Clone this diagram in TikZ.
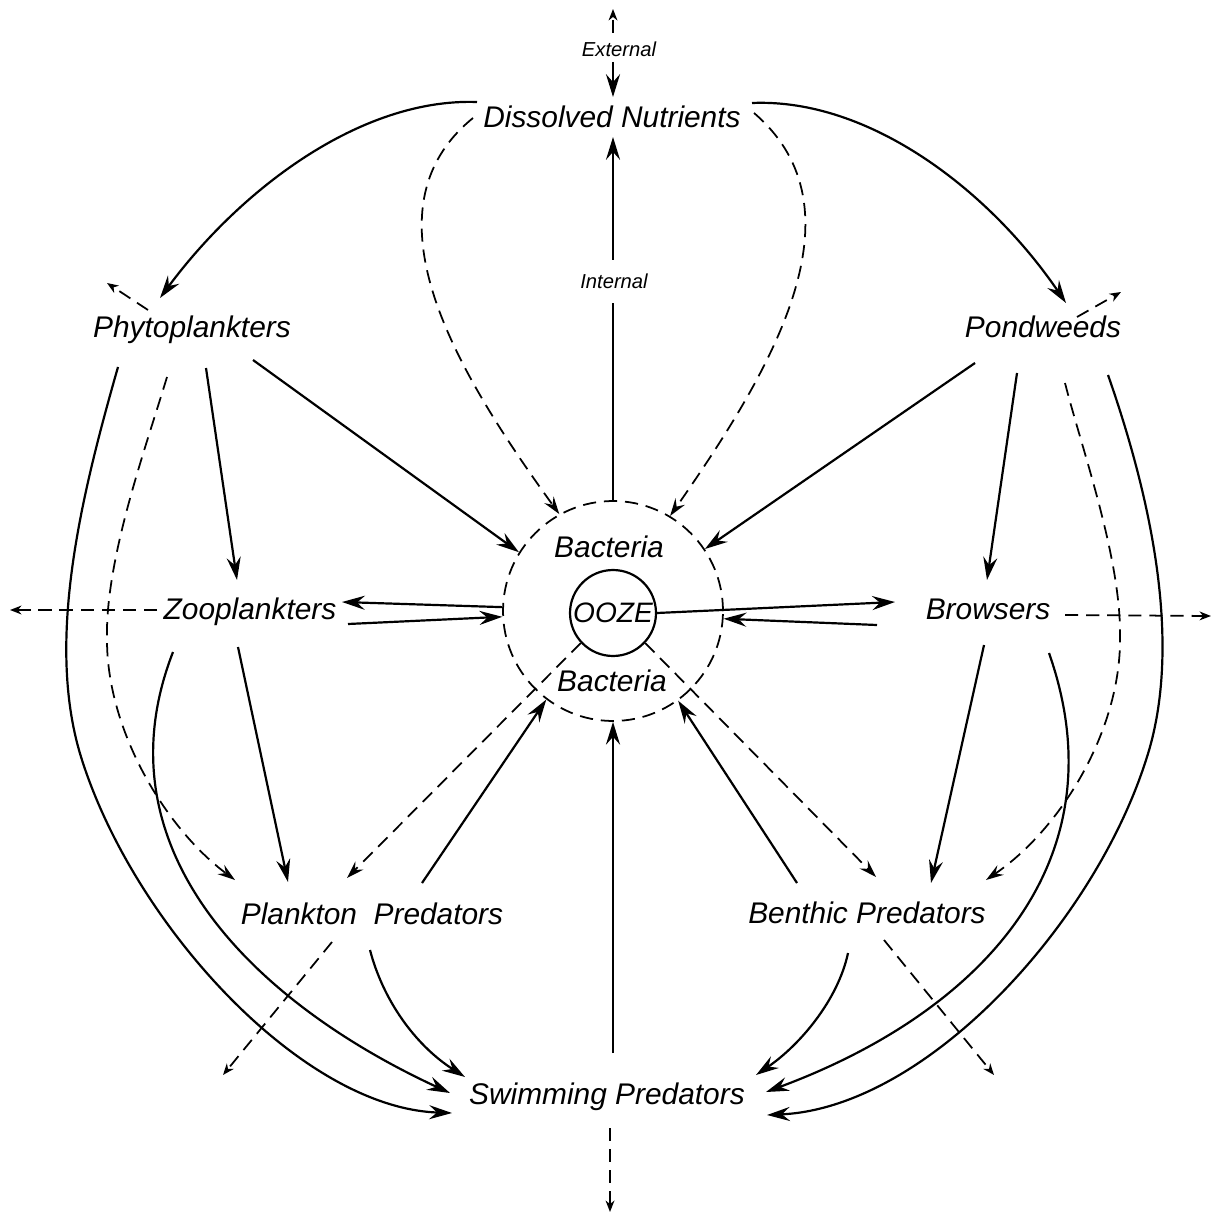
\documentclass[tikz,border=0pt]{standalone}
\usepackage{fontspec}
\setmainfont{Liberation Sans}
\usetikzlibrary{arrows.meta}
\begin{document}
\begin{tikzpicture}[x=0.02cm, y=-0.02cm,
  lab/.style={font=\fontsize{17}{20}\selectfont\itshape, inner sep=0pt, text height=12pt, text depth=0pt},
  smalllab/.style={font=\fontsize{11.5}{14}\selectfont\itshape, inner sep=0pt, text height=8pt, text depth=0pt},
  solidline/.style={line width=1.25pt},
  dashline/.style={line width=1pt, dash pattern=on 7.5pt off 4.5pt},
  arr/.style={-{Stealth[length=13pt,width=8pt,inset=4.5pt]}},
  darr/.style={-{Stealth[length=10pt,width=6.5pt,inset=3.5pt]}},
  sarr/.style={-{Stealth[length=6.5pt,width=5pt,inset=2pt]}},
]
\useasboundingbox (0,0) rectangle (1214,1219);

% nodes
\node[smalllab] (ext) at (619,49) {External};
\node[lab] (dn) at (612,117) {Dissolved Nutrients};
\node[smalllab] (intl) at (614,281) {Internal};
\node[lab] (phyto) at (192,327) {Phytoplankters};
\node[lab] (pond) at (1043,327) {Pondweeds};
\node[lab] (zoo) at (250,609) {Zooplankters};
\node[lab] (brows) at (988,609) {Browsers};
\node[circle, draw, dashline, minimum size=4.4cm, inner sep=0pt] (ring) at (613,611) {};
\node[circle, draw, solidline, minimum size=1.72cm, inner sep=0pt, font=\fontsize{16}{18}\selectfont\itshape] (ooze) at (613,613) {OOZE};
\node[lab] (bactu) at (609,547) {Bacteria};
\node[lab] (bactl) at (612,681) {Bacteria};
\node[lab] (pp) at (372,914) {Plankton\ \ Predators};
\node[lab] (bp) at (867,913) {Benthic\ Predators};
\node[lab] (sp) at (607,1094) {Swimming\ Predators};

% free ends
\coordinate (extOut) at (613,9);
\coordinate (phytoOut) at (107,283);
\coordinate (pondOut) at (1121,292);
\coordinate (zooOut) at (10,610);
\coordinate (browOut) at (1211,616);
\coordinate (ppOut) at (223,1075);
\coordinate (bpOut) at (994,1075);
\coordinate (spOut) at (610,1212);

% top
\draw[dashline,sarr] ([shift={(-6,-16)}]ext.center) -- (extOut);
\draw[solidline,arr] ([shift={(-6,13)}]ext.center) -- ([shift={(1,-20)}]dn.center);
\draw[solidline] (ring.north) -- ([shift={(-1,22)}]intl.center);
\draw[solidline,arr] ([shift={(-1,-21)}]intl.center) -- ([shift={(1,20)}]dn.center);

% nutrients to producers
\draw[solidline,arr] ([shift={(-135,-15)}]dn.center) .. controls (360,98) and (240,190) .. ([shift={(-32,-29)}]phyto.center);
\draw[solidline,arr] ([shift={(140,-14)}]dn.center) .. controls (869,98) and (989,190) .. ([shift={(23,-24)}]pond.center);
\draw[dashline,darr] ([shift={(-139,1)}]dn.center) .. controls (360,210) and (455,370) .. (ring.119);
\draw[dashline,darr] ([shift={(142,-4)}]dn.center) .. controls (867,210) and (772,370) .. (ring.59);

% phytoplankters
\draw[dashline,sarr] ([shift={(-44,-17)}]phyto.center) -- (phytoOut);
\draw[solidline,arr] ([shift={(61,33)}]phyto.center) -- (ring.148);
\draw[solidline,arr] ([shift={(14,41)}]phyto.center) -- ([shift={(-13,-29)}]zoo.center);
\draw[dashline,darr] ([shift={(-25,50)}]phyto.center) .. controls (145,450) and (105,560) .. (107,640) .. controls (107,730) and (165,828) .. ([shift={(-137,-34)}]pp.center);
\draw[solidline,arr] ([shift={(-74,40)}]phyto.center) .. controls (80,500) and (45,645) .. (82,760) .. controls (135,926) and (302,1108) .. ([shift={(-155,19)}]sp.center);

% pondweeds
\draw[dashline,sarr] ([shift={(34,-10)}]pond.center) -- (pondOut);
\draw[solidline,arr] ([shift={(-68,36)}]pond.center) -- (ring.34);
\draw[solidline,arr] ([shift={(-26,46)}]pond.center) -- ([shift={(-1,-29)}]brows.center);
\draw[dashline,darr] ([shift={(22,56)}]pond.center) .. controls (1082,450) and (1122,560) .. (1120,640) .. controls (1120,730) and (1062,828) .. ([shift={(119,-33)}]bp.center);
\draw[solidline,arr] ([shift={(65,48)}]pond.center) .. controls (1150,495) and (1184,645) .. (1146,760) .. controls (1093,926) and (925,1108) .. ([shift={(160,21)}]sp.center);

% zooplankters
\draw[solidline,arr] (ring.178) -- ([shift={(92,-7)}]zoo.center);
\draw[solidline,arr] ([shift={(98,15)}]zoo.center) -- (ring.183);
\draw[dashline,sarr] ([shift={(-93,1)}]zoo.center) -- (zooOut);
\draw[solidline,arr] ([shift={(-12,38)}]zoo.center) -- ([shift={(-84,-32)}]pp.center);
\draw[solidline,arr] ([shift={(-77,43)}]zoo.center) .. controls (96,850) and (255,1003) .. ([shift={(-157,-1)}]sp.center);

% browsers
\draw[solidline,arr] (ooze.east) -- ([shift={(-93,-7)}]brows.center);
\draw[solidline,arr] ([shift={(-111,16)}]brows.center) -- (ring.-4);
\draw[dashline,sarr] ([shift={(77,6)}]brows.center) -- (browOut);
\draw[solidline,arr] ([shift={(-4,36)}]brows.center) -- ([shift={(64,-30)}]bp.center);
\draw[solidline,arr] ([shift={(61,44)}]brows.center) .. controls (1122,861) and (982,1012) .. ([shift={(159,-2)}]sp.center);

% ooze and predators
\draw[dashline,darr] (ooze.223) -- ([shift={(-25,-36)}]pp.center);
\draw[dashline,darr] (ooze.317) -- ([shift={(9,-36)}]bp.center);
\draw[solidline,arr] ([shift={(50,-31)}]pp.center) -- (ring.233);
\draw[solidline,arr] ([shift={(-70,-30)}]bp.center) -- (ring.306);
\draw[dashline,sarr] ([shift={(-40,28)}]pp.center) -- (ppOut);
\draw[dashline,sarr] ([shift={(17,27)}]bp.center) -- (bpOut);
\draw[solidline,arr] ([shift={(-2,36)}]pp.center) .. controls (383,1000) and (415,1045) .. ([shift={(-142,-17)}]sp.center);
\draw[solidline,arr] ([shift={(-19,40)}]bp.center) .. controls (838,1000) and (800,1045) .. ([shift={(149,-19)}]sp.center);

% swimming predators
\draw[solidline,arr] ([shift={(6,-41)}]sp.center) -- (ring.south);
\draw[dashline,sarr] ([shift={(3,34)}]sp.center) -- (spOut);
\end{tikzpicture}
\end{document}
